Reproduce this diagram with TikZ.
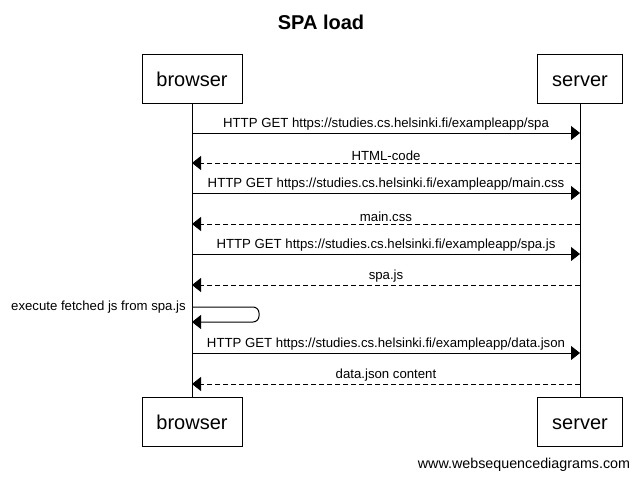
\documentclass[tikz,border=0pt]{standalone}
\usepackage{fontspec}
\setmainfont{Liberation Sans}
\usetikzlibrary{arrows.meta}
\begin{document}
\begin{tikzpicture}[x=1pt,y=-1pt,
  actor/.style={draw,line width=1pt,minimum width=100pt,minimum height=49pt,inner sep=0pt,text height=17.5pt,text depth=1.5pt,font=\fontsize{20}{24}\selectfont},
  msg/.style={line width=1pt,-{Triangle[length=9pt,width=14pt]}},
  reply/.style={msg,dash pattern=on 5pt off 3pt},
  lbl/.style={font=\fontsize{13.2}{15}\selectfont,inner sep=2pt,anchor=south},
  life/.style={line width=1pt}]
\useasboundingbox (0,0) rectangle (638,480);
\node[font=\bfseries\fontsize{20}{24}\selectfont] (title) at (321,22) {SPA load};
\node[actor] (b1) at (192,78.5) {browser};
\node[actor,minimum width=85pt] (s1) at (580,78.5) {server};
\node[actor] (b2) at (192,421.5) {browser};
\node[actor,minimum width=85pt] (s2) at (580,421.5) {server};
\draw[life] (b1.south) -- (b2.north);
\draw[life] (s1.south) -- (s2.north);
% coordinates on lifelines
\foreach \n/\y in {1/133,2/163,3/193,4/224,5/254,6/285,7/353,8/384}{
  \coordinate (b\n) at (192,\y);
  \coordinate (s\n) at (580,\y);
}
\coordinate (e1) at (192,307);
\coordinate (e2) at (259,307);
\coordinate (e3) at (259,322);
\coordinate (e4) at (192,322);
\draw[msg] (b1) -- node[lbl] (l1) {HTTP GET https://studies.cs.helsinki.fi/exampleapp/spa} (s1);
\draw[reply] (s2) -- node[lbl] (l2) {HTML-code} (b2);
\draw[msg] (b3) -- node[lbl] (l3) {HTTP GET https://studies.cs.helsinki.fi/exampleapp/main.css} (s3);
\draw[reply] (s4) -- node[lbl] (l4) {main.css} (b4);
\draw[msg] (b5) -- node[lbl] (l5) {HTTP GET https://studies.cs.helsinki.fi/exampleapp/spa.js} (s5);
\draw[reply] (s6) -- node[lbl] (l6) {spa.js} (b6);
\draw[msg,rounded corners=6pt] (e1) -- (e2) -- (e3) -- (e4);
\node[font=\fontsize{13.2}{15}\selectfont,anchor=east,inner sep=0pt] (l7) at (186,307) {execute fetched js from spa.js};
\draw[msg] (b7) -- node[lbl] (l8) {HTTP GET https://studies.cs.helsinki.fi/exampleapp/data.json} (s7);
\draw[reply] (s8) -- node[lbl] (l9) {data.json content} (b8);
\node[font=\fontsize{14.3}{17}\selectfont] (foot) at (524,465) {www.websequencediagrams.com};
\end{tikzpicture}
\end{document}
